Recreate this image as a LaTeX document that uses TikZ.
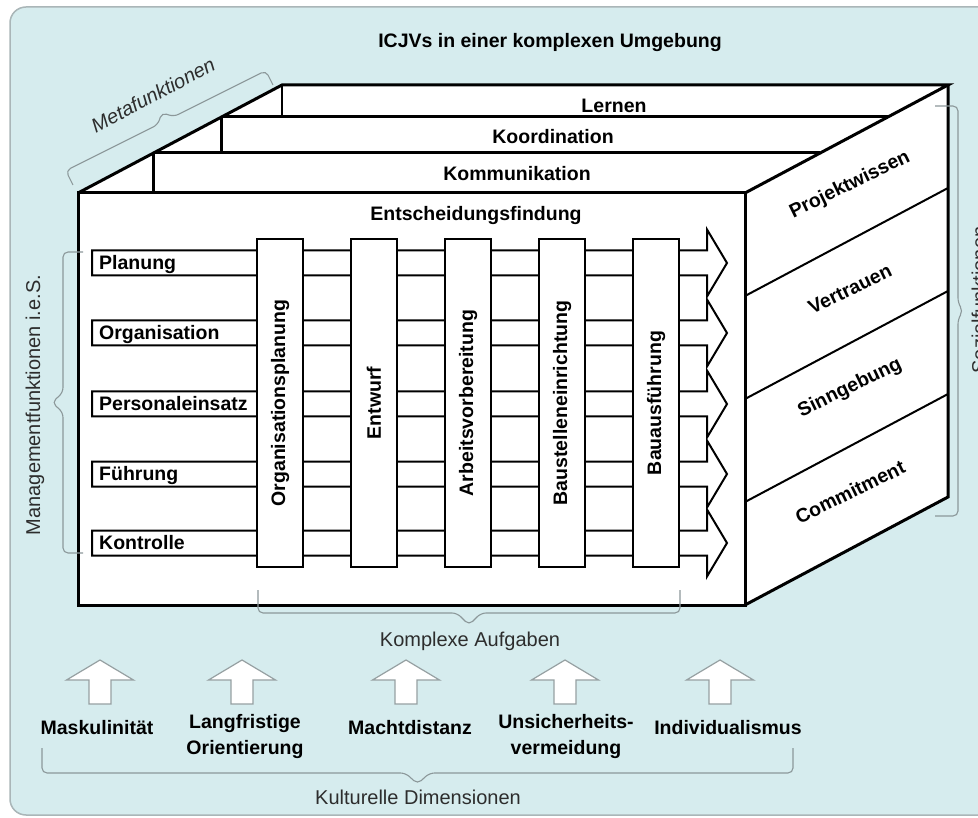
\documentclass[tikz,border=0pt]{standalone}
\usepackage{fontspec}
\setmainfont{Liberation Sans}
\usetikzlibrary{calc}

\definecolor{panel}{RGB}{214,236,238}
\definecolor{panelrim}{RGB}{170,182,184}
\definecolor{bracegray}{RGB}{140,152,154}
\definecolor{arrowrim}{RGB}{150,160,162}
\definecolor{softblack}{RGB}{45,45,45}

\tikzset{
  edge/.style={line width=3pt, line join=miter},
  inner/.style={line width=2pt},
  lbl/.style={font=\fontsize{19.5}{26}\selectfont\bfseries, inner sep=0pt},
  note/.style={font=\fontsize{20}{24}\selectfont, text=softblack, inner sep=0pt},
  bracepen/.style={draw=bracegray, line width=1.1pt, rounded corners=5pt},
  colbox/.style={lbl, draw, line width=2pt, fill=white, rotate=90,
    minimum width=328pt, minimum height=46pt},
  rowpen/.style={draw, line width=2pt, fill=white, line join=miter},
  upblock/.style={draw=arrowrim, line width=1.2pt, fill=white, line join=miter},
}

% curly brace with square ends: #1,#2 end points, #3 depth,
% #4 half width of the tip, #5 depth at the tip
\newcommand\gbrace[5]{%
  \draw[bracepen]
    (#1) -- ($(#1)!#3!90:(#2)$)
    -- ($(#1)!.5!(#2)!#4!(#1)!#3!-90:(#1)$)
    -- ($(#1)!.5!(#2)!#5!90:(#2)$)
    -- ($(#1)!.5!(#2)!#4!(#2)!#3!90:(#2)$)
    -- ($(#2)!#3!-90:(#1)$) -- (#2);}

\begin{document}
\begin{tikzpicture}[x=1pt,y=-1pt]
\useasboundingbox (0,0) rectangle (978,818);
\fill[white] (0,0) rectangle (978,818);
\draw[panelrim, line width=1.5pt, fill=panel, rounded corners=16pt]
  (10,7) rectangle (1010,815);

\node[lbl, anchor=base] (title) at (550,48) {ICJVs in einer komplexen Umgebung};

% cube corners
\coordinate (FTL) at (78,193);
\coordinate (FTR) at (745,193);
\coordinate (FBL) at (78,605);
\coordinate (FBR) at (745,605);
\coordinate (BTL) at (282,85);
\coordinate (BTR) at (948,85);
\coordinate (BBR) at (948,497);

% top face with three stacked layers
\fill[white] (FTL) -- (BTL) -- (BTR) -- (FTR) -- cycle;
\coordinate (L1) at ($(FTL)!0.7037!(BTL)$);
\coordinate (R1) at ($(FTR)!0.7037!(BTR)$);
\coordinate (L2) at ($(FTL)!0.3704!(BTL)$);
\coordinate (R2) at ($(FTR)!0.3704!(BTR)$);
\draw[edge] (L1) -- (R1);
\draw[edge] (L2) -- (R2);
\draw[line width=2.5pt] (BTL) -- (BTL |- L1);
\draw[line width=2.5pt] (L1) -- (L1 |- L2);
\draw[line width=2.5pt] (L2) -- (L2 |- FTL);
\node[lbl, anchor=base] (lern) at (614,112.5) {Lernen};
\node[lbl, anchor=base] (koord) at (553,143.5) {Koordination};
\node[lbl, anchor=base] (komm) at (517,181) {Kommunikation};

% right face, four bands
\fill[white] (FTR) -- (BTR) -- (BBR) -- (FBR) -- cycle;
\foreach \k in {0.25,0.5,0.75}
  \draw[inner] ($(FTR)!\k!(FBR)$) -- ($(BTR)!\k!(BBR)$);
\node[lbl, rotate=26] (pw) at (850,185) {Projektwissen};
\node[lbl, rotate=26] (vt) at (850,289) {Vertrauen};
\node[lbl, rotate=26] (sg) at (850,388) {Sinngebung};
\node[lbl, rotate=26] (cm) at (850,492) {Commitment};

% silhouette
\draw[edge] (FTL) -- (BTL) -- (BTR) -- (FTR);
\draw[edge] (BTR) -- (BBR) -- (FBR);
\draw[edge, fill=white] (FTL) rectangle (FBR);

\node[lbl, anchor=base] (ent) at (476,220.5) {Entscheidungsfindung};

% management functions as block arrows
\foreach \y/\nm/\tx in {263/pl/Planung, 333/og/Organisation,
    404/pe/Personaleinsatz, 474/fu/Führung, 543/ko/Kontrolle} {
  \draw[rowpen] (92,\y-12.5) -- (707,\y-12.5) -- (707,\y-33.5) -- (727,\y)
    -- (707,\y+33.5) -- (707,\y+12.5) -- (92,\y+12.5) -- cycle;
  \node[lbl, anchor=base west] (\nm) at (99,\y+6.5) {\tx};
}

% project phases
\node[colbox] (op) at (280,403) {Organisationsplanung};
\node[colbox] (ew) at (374,403) {Entwurf};
\node[colbox] (av) at (468,403) {Arbeitsvorbereitung};
\node[colbox] (be) at (562,403) {Baustelleneinrichtung};
\node[colbox] (ba) at (656,403) {Bauausführung};

% braces
\coordinate (mfA) at (73,185);  \coordinate (mfB) at (273,85);
\gbrace{mfA}{mfB}{16pt}{9pt}{25pt}
\node[note, font=\fontsize{20}{24}\selectfont\itshape, rotate=28] (meta) at (153,95) {Metafunktionen};

\coordinate (mgA) at (83,553);  \coordinate (mgB) at (83,252);
\gbrace{mgA}{mgB}{20pt}{10pt}{31pt}
\node[note, rotate=90] (mgmt) at (35,405) {Managementfunktionen i.e.S.};

\coordinate (szA) at (935,106); \coordinate (szB) at (935,516);
\gbrace{szA}{szB}{23pt}{8pt}{28pt}
\node[note, rotate=90] (sozial) at (979,300) {Sozialfunktionen};

\coordinate (kaA) at (680,590); \coordinate (kaB) at (258,590);
\gbrace{kaA}{kaB}{23pt}{12pt}{35pt}
\node[note, anchor=base] (aufg) at (470,646) {Komplexe Aufgaben};

% cultural dimensions
\foreach \x in {100,242,406,565,720}
  \draw[upblock] (\x-11,704) -- (\x-11,680) -- (\x-33.5,680) -- (\x,660)
    -- (\x+33.5,680) -- (\x+11,680) -- (\x+11,704) -- cycle;
\node[lbl, anchor=base] (mask) at (97,734) {Maskulinität};
\node[lbl, anchor=base, align=center] (lang) at (245,754) {Langfristige\\Orientierung};
\node[lbl, anchor=base] (macht) at (410,734) {Machtdistanz};
\node[lbl, anchor=base, align=center] (unsi) at (566,754) {Unsicherheits-\\vermeidung};
\node[lbl, anchor=base] (indiv) at (728,734) {Individualismus};

\coordinate (kdA) at (793,748); \coordinate (kdB) at (42,748);
\gbrace{kdA}{kdB}{25pt}{12pt}{36pt}
\node[note, anchor=base] (kult) at (418,804) {Kulturelle Dimensionen};
\end{tikzpicture}
\end{document}
